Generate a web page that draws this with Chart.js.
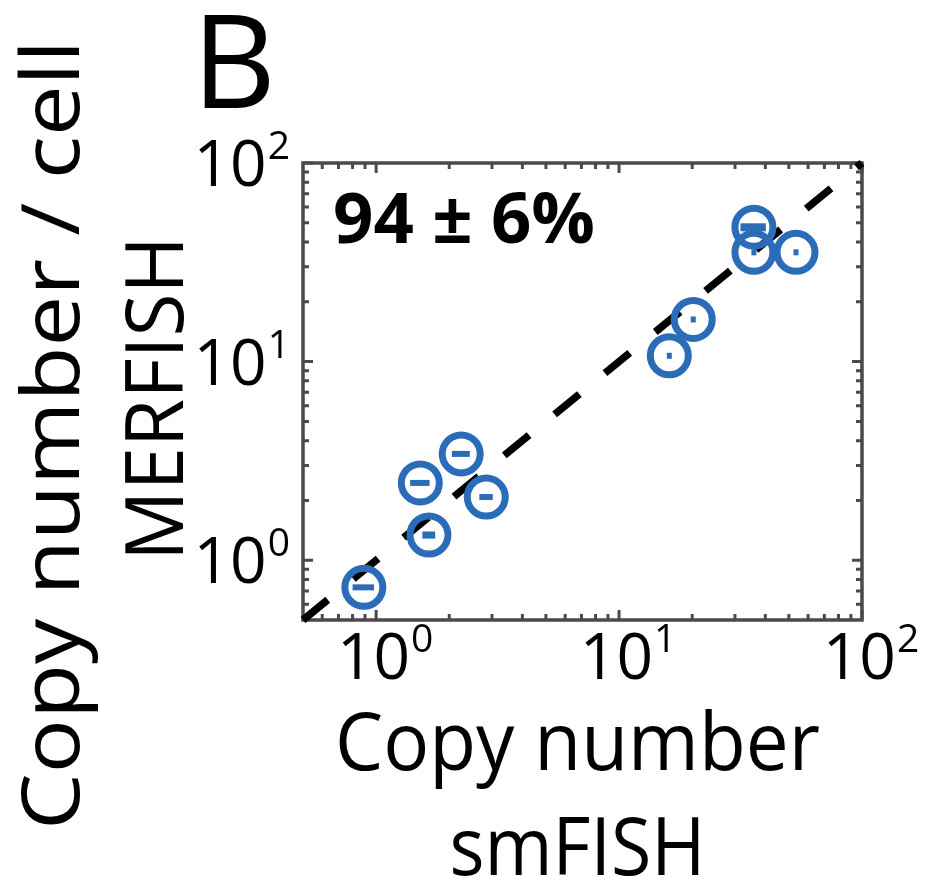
<!DOCTYPE html>
<html><head><meta charset="utf-8">
<script src="https://cdn.jsdelivr.net/npm/chart.js@4.4.0/dist/chart.umd.min.js"></script>
<style>html,body{margin:0;padding:0;background:#fff}canvas{display:block}</style>
</head><body>
<div style="width:928px;height:881px"><canvas id="c" width="928" height="881"></canvas></div>
<script>
// ---- data ----
const smFISH      = [0.89, 1.65, 1.52, 2.24, 2.84, 16.1, 20.2, 35.9, 35.9, 53.5];
const MERFISH     = [0.73, 1.34, 2.45, 3.43, 2.08, 10.7, 16.3, 47.5, 35.5, 35.5];
const smFISHErr   = [0.09, 0.1, 0.14, 0.19, 0.18, 0, 0, 4.3, 0, 0];
const MERFISHErr  = [0, 0.055, 0, 0, 0, 0, 0, 2.2, 0, 0];
const identityLine = [0.5, 100];
const axisMin = 0.5, axisMax = 100;
const majorTicks = [1, 10, 100];
const tickExponents = ['0', '1', '2'];
const minorTicks = [0.6,0.7,0.8,0.9,2,3,4,5,6,7,8,9,20,30,40,50,60,70,80,90];
const panelLabel = 'B';
const annotation = '94 \u00B1 6%';
const xTitleLines = ['Copy number', 'smFISH'];
const yTitle = 'MERFISH';
const sharedYTitle = 'Copy number / cell';

const BLUE = '#2a6cb8';
const AXIS = '#4a4a4a';
const FONT = '"Open Sans", "Noto Sans", sans-serif';

function drawText(ctx, text, x, y, size, weight, align, targetW) {
  ctx.save();
  ctx.font = weight + ' ' + size + 'px ' + FONT;
  ctx.textBaseline = 'alphabetic';
  const w = ctx.measureText(text).width;
  const sx = targetW ? targetW / w : 1;
  ctx.translate(x, y);
  ctx.scale(sx, 1);
  ctx.textAlign = align;
  ctx.fillStyle = '#000';
  ctx.fillText(text, 0, 0);
  ctx.restore();
}

function powerLabel(ctx, exp, x, y, align) {
  ctx.save();
  ctx.fillStyle = '#000';
  ctx.textBaseline = 'alphabetic';
  ctx.textAlign = 'left';
  const big = '400 64px ' + FONT, small = '400 39px ' + FONT;
  ctx.font = big; const wb = ctx.measureText('10').width;
  ctx.font = small; const ws = ctx.measureText(exp).width;
  const total = wb + ws + 1;
  let left = x;
  if (align === 'right') left = x - total;
  else if (align === 'center') left = x - total / 2;
  ctx.font = big; ctx.fillText('10', left, y);
  ctx.font = small; ctx.fillText(exp, left + wb + 1, y - 27);
  ctx.restore();
}

const framePlugin = {
  id: 'frame',
  beforeDatasetsDraw(chart) {
    const {ctx, chartArea: a, scales: {x, y}} = chart;
    ctx.save();
    ctx.strokeStyle = AXIS;
    ctx.lineWidth = 3.5;
    ctx.strokeRect(a.left, a.top, a.right - a.left, a.bottom - a.top);
    ctx.lineWidth = 3;
    const tick = (v, len) => {
      const px = x.getPixelForValue(v), py = y.getPixelForValue(v);
      ctx.beginPath();
      ctx.moveTo(px, a.bottom); ctx.lineTo(px, a.bottom - len);
      ctx.moveTo(px, a.top); ctx.lineTo(px, a.top + len);
      ctx.moveTo(a.left, py); ctx.lineTo(a.left + len, py);
      ctx.moveTo(a.right, py); ctx.lineTo(a.right - len, py);
      ctx.stroke();
    };
    majorTicks.forEach(v => tick(v, 10));
    minorTicks.forEach(v => tick(v, 6));
    ctx.restore();
  },
  afterDatasetsDraw(chart) {
    const {ctx, scales: {x, y}} = chart;
    ctx.save();
    ctx.fillStyle = BLUE;
    smFISH.forEach((v, i) => {
      const cx = x.getPixelForValue(v), cy = y.getPixelForValue(MERFISH[i]);
      let xl = x.getPixelForValue(v - smFISHErr[i]), xr = x.getPixelForValue(v + smFISHErr[i]);
      let yt = y.getPixelForValue(MERFISH[i] + MERFISHErr[i]), yb = y.getPixelForValue(MERFISH[i] - MERFISHErr[i]);
      if (xr - xl < 5) { xl = cx - 2.5; xr = cx + 2.5; }
      if (yb - yt < 6) { yt = cy - 3; yb = cy + 3; }
      ctx.fillRect(xl, yt, xr - xl, yb - yt);
    });
    ctx.restore();
  },
  afterDraw(chart) {
    const {ctx, chartArea: a, scales: {x, y}} = chart;
    majorTicks.forEach((v, i) => {
      powerLabel(ctx, tickExponents[i], x.getPixelForValue(v) + 9, a.bottom + 59, 'center');
      powerLabel(ctx, tickExponents[i], a.left - 13, y.getPixelForValue(v) + 23, 'right');
    });
    const cxm = (a.left + a.right) / 2 - 5;
    drawText(ctx, xTitleLines[0], cxm, 770, 80, 400, 'center', 485);
    drawText(ctx, xTitleLines[1], cxm, 875, 80, 400, 'center', 256);
    ctx.save(); ctx.translate(183, (a.top + a.bottom) / 2 + 7); ctx.rotate(-Math.PI / 2);
    drawText(ctx, yTitle, 0, 0, 80, 400, 'center', 325);
    ctx.restore();
    ctx.save(); ctx.translate(79, 435); ctx.rotate(-Math.PI / 2);
    drawText(ctx, sharedYTitle, 0, 0, 80, 400, 'center', 790);
    ctx.restore();
    drawText(ctx, panelLabel, 192, 108, 130, 400, 'left', null);
    drawText(ctx, annotation, 333, 243, 70, 700, 'left', 262);
  }
};

new Chart(document.getElementById('c'), {
  type: 'scatter',
  data: {
    datasets: [
      {
        type: 'line',
        data: identityLine.map(v => ({x: v, y: v})),
        borderColor: '#000',
        borderWidth: 7.5,
        borderDash: [32, 33],
        borderCapStyle: 'butt',
        pointRadius: 0,
        fill: false,
        clip: false,
        order: 2
      },
      {
        data: smFISH.map((v, i) => ({x: v, y: MERFISH[i]})),
        pointStyle: 'circle',
        pointRadius: 19,
        pointBorderWidth: 7,
        pointBorderColor: BLUE,
        pointBackgroundColor: 'rgba(0,0,0,0)',
        pointHoverRadius: 19,
        clip: false,
        order: 1
      }
    ]
  },
  options: {
    responsive: false,
    animation: false,
    devicePixelRatio: 1,
    layout: { padding: { left: 303, right: 66, top: 163, bottom: 261 } },
    plugins: { legend: { display: false }, tooltip: { enabled: false } },
    scales: {
      x: { type: 'logarithmic', min: axisMin, max: axisMax, display: false },
      y: { type: 'logarithmic', min: axisMin, max: axisMax, display: false }
    }
  },
  plugins: [framePlugin]
});
</script>
</body></html>
